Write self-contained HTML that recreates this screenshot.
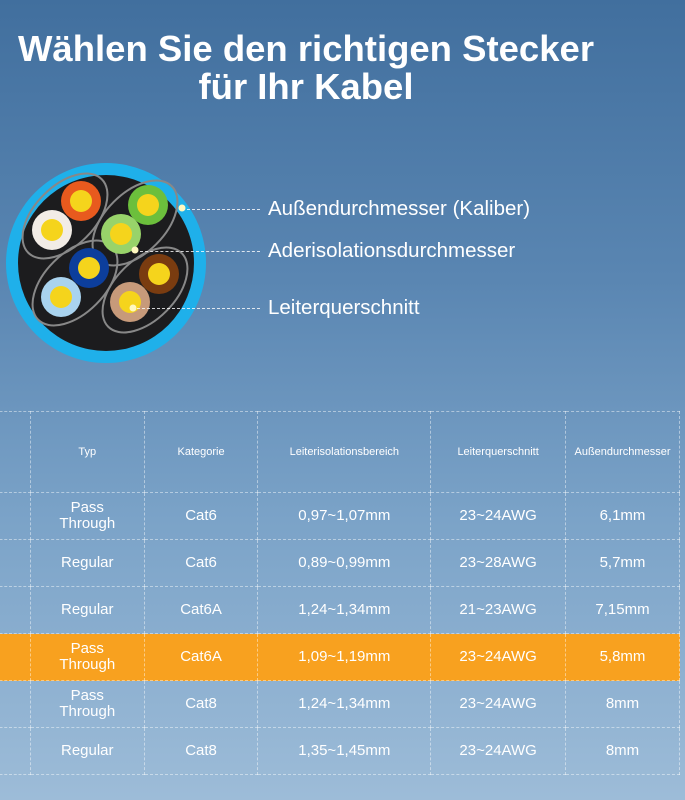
<!DOCTYPE html>
<html><head><meta charset="utf-8"><style>
body{margin:0;width:685px;height:800px;overflow:hidden;font-family:"Liberation Sans",sans-serif;background:linear-gradient(180deg,#416f9e 0%,#5a86b2 35%,#7ba3c8 65%,#9dbcd8 100%);position:relative;color:#fff}
.t{position:absolute;width:612px;text-align:center;font-weight:bold;font-size:36.5px;left:0}
.lab{position:absolute;font-size:20.5px;color:#fff}
.dl{position:absolute;border-top:1.5px dashed rgba(255,255,255,.8);height:0}
table{position:absolute;left:-10px;top:411px;border-collapse:collapse;width:690px}
td{border:1px dashed rgba(255,255,255,.45);text-align:center;font-size:15px;padding:0;line-height:16px}
tr.h td{height:80px;font-size:11px}
tr.r td{height:46px}
tr.o td{background:#f8a11f}
</style></head><body>
<div class="t" style="top:28px">Wählen Sie den richtigen Stecker</div>
<div class="t" style="top:66px">für Ihr Kabel</div>
<svg width="240" height="240" style="position:absolute;left:0;top:153px">
<circle cx="106" cy="110" r="100" fill="#1fb0ea"/>
<circle cx="106" cy="110" r="88" fill="#1c1c1e"/>
<g fill="none" stroke="#888" stroke-width="2">
<ellipse cx="65" cy="63" rx="52" ry="30" transform="rotate(-45 65 63)"/>
<ellipse cx="135" cy="70" rx="52" ry="30" transform="rotate(-45 135 70)"/>
<ellipse cx="75" cy="130" rx="52" ry="30" transform="rotate(-45 75 130)"/>
<ellipse cx="145" cy="137" rx="52" ry="30" transform="rotate(-45 145 137)"/>
</g>
<circle cx="81" cy="48" r="20" fill="#e85a1e"/><circle cx="52" cy="77" r="20" fill="#f2ece6"/>
<circle cx="148" cy="52" r="20" fill="#6cbf3c"/><circle cx="121" cy="81" r="20" fill="#98d36a"/>
<circle cx="89" cy="115" r="20" fill="#0c3e9c"/><circle cx="61" cy="144" r="20" fill="#a9d3ef"/>
<circle cx="159" cy="121" r="20" fill="#7a3c10"/><circle cx="130" cy="149" r="20" fill="#c79a7a"/>
<g fill="#f5d41c">
<circle cx="81" cy="48" r="11"/><circle cx="52" cy="77" r="11"/><circle cx="148" cy="52" r="11"/><circle cx="121" cy="81" r="11"/><circle cx="89" cy="115" r="11"/><circle cx="61" cy="144" r="11"/><circle cx="159" cy="121" r="11"/><circle cx="130" cy="149" r="11"/>
</g>
<circle cx="182" cy="55" r="3.5" fill="#fff8c0"/><circle cx="135" cy="97" r="3.5" fill="#fff8c0"/><circle cx="133" cy="155" r="3.5" fill="#fff8c0"/>
</svg>
<div class="dl" style="left:187px;top:209px;width:73px"></div>
<div class="dl" style="left:140px;top:251px;width:120px"></div>
<div class="dl" style="left:137px;top:308px;width:123px"></div>
<div class="lab" style="left:268px;top:197px">Außendurchmesser (Kaliber)</div>
<div class="lab" style="left:268px;top:239px">Aderisolationsdurchmesser</div>
<div class="lab" style="left:268px;top:296px">Leiterquerschnitt</div>
<table>
<colgroup><col style="width:40px"><col style="width:114px"><col style="width:114px"><col style="width:173px"><col style="width:135px"><col style="width:114px"></colgroup>
<tr class="h"><td></td><td>Typ</td><td>Kategorie</td><td>Leiterisolationsbereich</td><td>Leiterquerschnitt</td><td>Außendurchmesser</td></tr>
<tr class="r"><td></td><td>Pass<br>Through</td><td>Cat6</td><td>0,97~1,07mm</td><td>23~24AWG</td><td>6,1mm</td></tr>
<tr class="r"><td></td><td>Regular</td><td>Cat6</td><td>0,89~0,99mm</td><td>23~28AWG</td><td>5,7mm</td></tr>
<tr class="r"><td></td><td>Regular</td><td>Cat6A</td><td>1,24~1,34mm</td><td>21~23AWG</td><td>7,15mm</td></tr>
<tr class="r o"><td></td><td>Pass<br>Through</td><td>Cat6A</td><td>1,09~1,19mm</td><td>23~24AWG</td><td>5,8mm</td></tr>
<tr class="r"><td></td><td>Pass<br>Through</td><td>Cat8</td><td>1,24~1,34mm</td><td>23~24AWG</td><td>8mm</td></tr>
<tr class="r"><td></td><td>Regular</td><td>Cat8</td><td>1,35~1,45mm</td><td>23~24AWG</td><td>8mm</td></tr>
</table>
</body></html>
